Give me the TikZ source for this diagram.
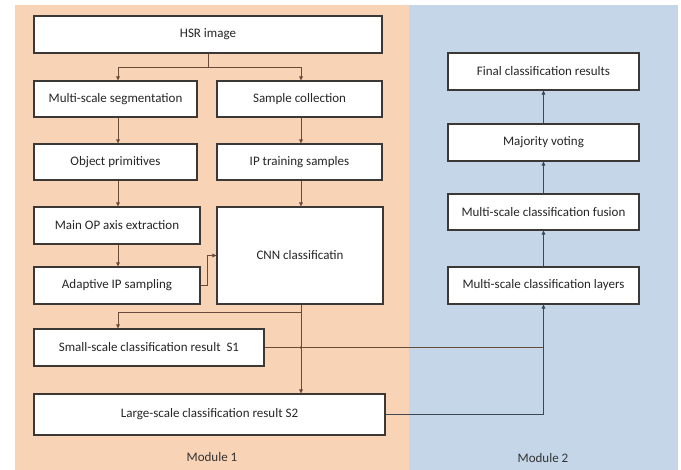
\documentclass[tikz,border=0pt]{standalone}
\usepackage{fontspec}
\setmainfont{Carlito}
\usetikzlibrary{arrows.meta,calc}

\definecolor{panelA}{HTML}{F8D3B5}
\definecolor{panelB}{HTML}{C4D6E8}
\definecolor{edge}{HTML}{3C3836}
\definecolor{wireA}{HTML}{6A4A3A}
\definecolor{wireB}{HTML}{3E4652}

\tikzset{
  box/.style={draw=edge, line width=1.2bp, fill=white, inner sep=2bp,
    font=\fontsize{13bp}{15bp}\selectfont, text=black!85},
  wire/.style={draw=wireA, line width=1bp},
  arr/.style={wire, -{Triangle[length=4bp,width=3.6bp]}},
  wireR/.style={draw=wireB, line width=1bp},
  arrR/.style={wireR, -{Triangle[length=4bp,width=3.6bp]}},
  caption/.style={font=\fontsize{13bp}{15bp}\selectfont, text=black!80}
}

\begin{document}
\begin{tikzpicture}[x=1bp,y=-1bp]
\useasboundingbox (0,0) rectangle (681,470);

% module panels
\fill[panelA] (15,5) rectangle (409,470);
\fill[panelB] (409,5) rectangle (678,470);

% column positions of the vertical flows
\coordinate (lx) at (118,0);
\coordinate (rx) at (301,0);

% module 1
\node[box, minimum width=348bp, minimum height=37bp] (hsr) at (208,34.5) {HSR image};
\node[box, minimum width=163bp, minimum height=36bp] (seg) at (115.5,99) {Multi-scale segmentation};
\node[box, minimum width=165bp, minimum height=36bp] (samp) at (299.5,99) {Sample collection};
\node[box, minimum width=163bp, minimum height=36bp] (obj) at (115.5,162) {Object primitives};
\node[box, minimum width=165bp, minimum height=36bp] (ipt) at (299.5,162) {IP training samples};
\node[box, minimum width=166bp, minimum height=37bp] (mainop) at (117,225.5) {Main OP axis extraction};
\node[box, minimum width=166bp, minimum height=37bp] (adapt) at (117,285.5) {Adaptive IP sampling};
\node[box, minimum width=166bp, minimum height=97bp] (cnn) at (300,255.5) {CNN classificatin};
\node[box, minimum width=230bp, minimum height=37bp] (small) at (149,347.5) {Small-scale classification result~~S1};
\node[box, minimum width=351bp, minimum height=41bp] (large) at (209.5,414.5) {Large-scale classification result S2};
\node[caption] (m1) at (212,457) {Module 1};

% module 2
\node[box, minimum width=191bp, minimum height=37bp] (final) at (543.5,71.5) {Final classification results};
\node[box, minimum width=191bp, minimum height=37bp] (vote) at (543.5,142.5) {Majority voting};
\node[box, minimum width=191bp, minimum height=36bp] (fusion) at (543.5,212) {Multi-scale classification fusion};
\node[box, minimum width=191bp, minimum height=37bp] (layers) at (543.5,285.5) {Multi-scale classification layers};
\node[caption] (m2) at (543,458) {Module 2};

% module 1 flow
\draw[wire] (hsr.south) -- ++(0,14) coordinate (split);
\draw[arr] (split) -| (seg.north -| lx);
\draw[arr] (split) -| (samp.north -| rx);
\draw[arr] (seg.south -| lx) -- (obj.north -| lx);
\draw[arr] (samp.south -| rx) -- (ipt.north -| rx);
\draw[arr] (obj.south -| lx) -- (mainop.north -| lx);
\draw[arr] (ipt.south -| rx) -- (cnn.north -| rx);
\draw[arr] (mainop.south -| lx) -- (adapt.north -| lx);
\draw[arr] (adapt.east) -- ++(7,0) |- (cnn.west);
\draw[arr] (cnn.south -| rx) -- (large.north -| rx);
\coordinate (branch) at ($(cnn.south -| rx)+(0,8)$);
\draw[arr] (branch) -| (small.north -| lx);

% results into module 2
\draw[wire, line width=0.7bp] (small.east) -- (small.east -| layers.south) coordinate (s1join);
\fill[wireA] (small.east -| rx) circle (1.3bp);
\draw[wireR] (large.east) -| (s1join);
\draw[arrR] (s1join) -- (layers.south);

% module 2 flow
\draw[arrR] (layers.north) -- (fusion.south);
\draw[arrR] (fusion.north) -- (vote.south);
\draw[arrR] (vote.north) -- (final.south);
\end{tikzpicture}
\end{document}
